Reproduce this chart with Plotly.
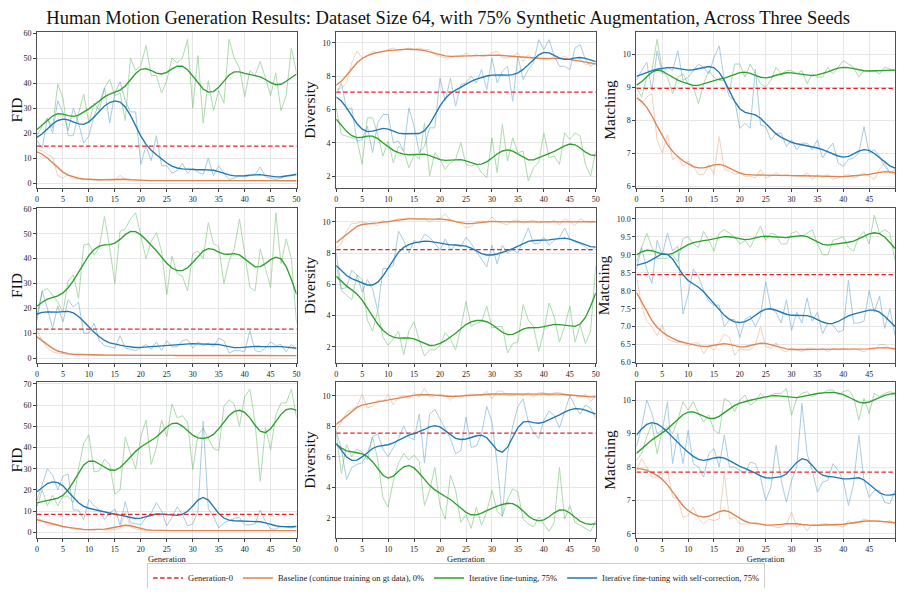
import numpy as np
import plotly.graph_objects as go
from plotly.subplots import make_subplots

generations = list(range(51))
metric_names = ["FID", "Diversity", "Matching"]
series_names = [
    "Baseline (continue training on gt data), 0%",
    "Iterative fine-tuning, 75%",
    "Iterative fine-tuning with self-correction, 75%",
]
gen0_fid = [14.8, 11.6, 8.45]
gen0_div = [7.05, 8.22, 7.55]
gen0_match = [8.96, 8.45, 7.85]

# ---------------- Seed 1 ----------------
fid_s1_base = [13.5, 13.0, 11.5, 10.5, 3.0, 2.0, 3.5, 1.8, 1.8, 1.5, 1.4, 1.3, 1.3, 1.2, 1.3, 1.2, 3.2, 1.5, 1.2, 1.1,
               1.1, 1.0, 1.0, 1.1, 1.0, 1.0, 1.0, 1.0, 1.0, 1.0, 1.0, 0.9, 1.0, 0.9, 0.9, 1.0, 1.1, 0.9, 0.9, 1.0,
               0.9, 0.9, 1.0, 1.0, 1.2, 0.9, 1.0, 1.0, 1.0, 1.1, 1.0]
fid_s1_iter = [19, 23, 26, 22, 39.5, 34, 19, 19, 28, 35.5, 24, 32, 29, 38, 41.5, 35, 36, 25, 50, 45,
               47, 55, 43, 43, 36, 41, 50, 48, 50, 57.5, 30, 51, 24, 41, 29, 37, 32, 57.5, 50, 46,
               34.5, 45, 43, 48.7, 42, 35, 44, 29, 35, 54, 44]
fid_s1_corr = [17, 14, 26, 20, 33, 28, 21, 30, 24, 16, 19, 27, 32, 38, 24, 36, 40.5, 33, 28.5, 28.5,
               7.5, 15, 9, 19, 7, 7, 4, 5, 8, 4, 6, 4.5, 3.5, 10, 3, 7, 4, 1.5, 2, 3,
               2.5, 3, 3.5, 6.5, 2.5, 2, 1.5, 2, 3, 3, 4]
div_s1_base = [7.2, 7.3, 7.6, 8.8, 9.5, 9.1, 9.2, 9.5, 9.4, 9.5, 9.6, 9.7, 9.5, 9.6, 9.7, 9.6, 9.7, 9.6, 9.6, 9.3,
               9.2, 9.1, 9.1, 9.2, 9.2, 9.4, 9.2, 9.3, 9.2, 9.2, 9.4, 9.5, 9.1, 9.1, 9.2, 9.4, 8.9, 9.3, 9.0, 9.1,
               9.0, 9.0, 9.2, 9.1, 9.2, 9.0, 8.9, 9.0, 8.7, 8.8, 8.7]
div_s1_iter = [6.1, 4.5, 4.4, 4.3, 4.2, 2.7, 5.5, 5.5, 4.5, 3.2, 4.1, 2.8, 3.8, 3.5, 2.5, 3.3, 3.0, 5.2, 2.0, 3.4,
               3.0, 2.4, 2.8, 3.0, 4.0, 2.7, 2.6, 2.7, 2.2, 1.9, 4.3, 2.2, 5.1, 2.9, 4.3, 3.4, 3.5, 1.7, 2.5, 2.8,
               4.6, 3.1, 3.2, 2.7, 4.6, 4.2, 4.6, 4.4, 2.7, 2.0, 3.5]
div_s1_corr = [6.9, 7.6, 6.0, 6.1, 4.1, 4.2, 5.0, 3.4, 5.2, 5.7, 5.7, 4.0, 4.1, 3.5, 6.1, 5.0, 3.4, 3.8, 4.9, 4.9,
               7.9, 6.5, 7.9, 6.2, 7.5, 7.6, 8.0, 7.6, 8.4, 7.2, 9.1, 7.6, 8.3, 8.6, 6.5, 9.2, 7.8, 8.4, 8.8, 10.2,
               9.6, 10.2, 9.2, 8.6, 8.6, 8.4, 9.7, 9.9, 9.0, 8.6, 8.8]
match_s1_base = [8.8, 8.5, 8.7, 8.8, 7.4, 7.0, 7.55, 6.8, 6.9, 6.6, 6.75, 6.6, 6.35, 6.35, 6.65, 6.35, 7.5, 6.5, 6.45, 6.35,
                 6.4, 6.3, 6.3, 6.25, 6.5, 6.25, 6.3, 6.4, 6.3, 6.35, 6.3, 6.3, 6.3, 6.4, 6.2, 6.35, 6.25, 6.35, 6.2, 6.25,
                 6.3, 6.35, 6.25, 6.3, 6.4, 6.3, 6.2, 6.5, 6.7, 6.4, 6.35]
match_s1_iter = [9.0, 8.7, 9.3, 9.5, 10.45, 9.5, 9.3, 8.8, 9.3, 9.4, 9.1, 9.0, 8.5, 9.1, 9.5, 9.3, 9.2, 9.2, 8.9, 9.7,
                 9.7, 9.3, 9.7, 9.4, 9.1, 9.0, 9.2, 9.6, 9.4, 9.5, 9.5, 9.4, 9.5, 9.1, 9.4, 9.3, 9.3, 9.6, 9.4, 9.6,
                 9.8, 9.7, 9.6, 9.3, 9.5, 9.5, 9.5, 9.4, 9.6, 9.55, 9.5]
match_s1_corr = [9.2, 9.5, 9.75, 8.9, 10.1, 9.4, 9.6, 9.5, 10.1, 9.2, 9.3, 9.5, 9.7, 9.6, 9.4, 9.9, 10.25, 9.2, 8.7, 8.6,
                 7.75, 7.9, 7.75, 9.55, 7.85, 7.8, 7.4, 7.6, 7.6, 7.2, 7.4, 7.1, 7.3, 7.3, 7.1, 7.4, 6.85, 7.1, 7.3, 6.7,
                 6.6, 6.8, 6.85, 7.0, 7.8, 7.0, 7.1, 6.9, 6.6, 6.4, 6.5]

# ---------------- Seed 2 ----------------
fid_s2_base = [11, 7, 4, 2.5, 2, 1.7, 1.5, 1.4, 1.4, 1.3, 1.3, 1.2, 1.2, 1.2, 1.1, 1.1, 1.1, 1.1, 1.0, 1.0,
               1.0, 1.0, 1.0, 1.0, 1.0, 1.3, 1.0, 1.0, 1.0, 1.0, 1.0, 1.0, 1.0, 1.0, 1.0, 1.0, 1.0, 1.0, 1.0, 1.0,
               1.0, 1.0, 1.0, 1.0, 1.0, 1.0, 1.0, 1.0, 1.0, 1.0, 1.0]
fid_s2_iter = [17, 27, 28, 25, 22.5, 18.5, 31, 33.5, 24, 45.5, 46, 41.5, 44.5, 57, 44.5, 30, 51, 52, 56, 58.5,
               49.5, 40, 47, 50.5, 43, 25.5, 41, 34, 33, 27, 42, 43, 40, 54.5, 46, 45, 30, 39, 44, 56,
               42, 28.5, 27, 44, 36, 28.5, 58.5, 38, 48, 40, 14]
fid_s2_corr = [15, 27, 20, 12, 21, 14.5, 23.5, 20.5, 22.5, 10, 10, 14, 7, 5, 4.5, 4, 9, 4, 3.5, 3,
               4, 5.5, 3.5, 6.5, 3, 7, 4.5, 4.5, 7, 7.5, 4, 6.5, 5, 6, 4.5, 8, 7, 2, 3, 3,
               2.5, 11, 3, 2.5, 4, 6.5, 5, 5.5, 2.5, 5.5, 3.5]
div_s2_base = [8.3, 8.6, 9.4, 9.9, 9.9, 10.0, 9.9, 9.85, 9.75, 10.1, 9.9, 10.1, 10.2, 10.2, 10.25, 10.2, 10.15, 10.2, 10.0, 10.15,
               10.2, 10.5, 10.1, 10.0, 9.9, 9.6, 9.7, 10.0, 10.05, 9.95, 10.3, 10.0, 9.9, 9.8, 10.1, 10.1, 9.9, 10.0, 10.1, 9.9,
               10.0, 9.95, 10.1, 9.8, 10.2, 10.0, 9.75, 10.2, 10.0, 9.95, 10.0]
div_s2_iter = [7.2, 5.6, 5.3, 5.0, 6.6, 6.3, 3.7, 3.0, 4.3, 2.6, 2.1, 2.5, 3.0, 1.5, 3.0, 3.6, 2.4, 1.4, 1.8, 1.8,
               2.1, 2.9, 2.5, 1.8, 3.2, 4.9, 3.3, 3.5, 3.6, 4.6, 3.2, 3.3, 3.3, 1.6, 2.2, 2.3, 4.7, 3.7, 3.3, 1.7,
               3.0, 4.8, 3.9, 2.3, 3.3, 4.6, 2.3, 3.4, 2.2, 3.0, 7.2]
div_s2_corr = [8.0, 5.7, 5.8, 6.9, 6.6, 5.5, 6.3, 5.7, 4.3, 7.0, 7.0, 7.2, 9.4, 8.8, 8.0, 8.8, 8.6, 9.2, 9.0, 8.6,
               8.2, 8.9, 8.2, 8.5, 8.4, 9.0, 8.6, 8.1, 7.6, 7.1, 8.5, 7.3, 8.5, 8.0, 8.2, 8.0, 8.8, 9.6, 8.6, 8.6,
               9.0, 8.5, 8.8, 9.0, 9.6, 8.9, 8.7, 8.6, 8.4, 8.1, 8.4]
match_s2_base = [8.4, 7.6, 7.15, 7.0, 6.75, 7.05, 6.65, 6.6, 6.55, 6.6, 6.45, 6.55, 6.55, 6.25, 6.45, 6.35, 6.55, 6.8, 6.7, 6.2,
                 6.4, 6.35, 6.35, 6.5, 7.0, 6.45, 6.4, 6.55, 6.35, 6.3, 6.4, 6.35, 6.3, 6.4, 6.4, 6.35, 6.4, 6.3, 6.4, 6.35,
                 6.4, 6.35, 6.4, 6.35, 6.3, 6.4, 6.35, 6.5, 6.5, 6.4, 6.35]
match_s2_iter = [8.8, 9.2, 9.6, 9.2, 8.9, 8.9, 8.9, 9.0, 8.8, 9.45, 9.5, 9.3, 9.2, 9.65, 9.4, 9.1, 9.6, 9.7, 9.6, 9.5,
                 9.3, 9.4, 9.2, 9.5, 9.8, 9.4, 9.6, 9.55, 9.3, 9.3, 9.6, 9.65, 9.5, 9.6, 9.7, 9.3, 9.0, 9.0, 9.4, 9.45,
                 9.5, 9.2, 9.1, 9.5, 9.65, 9.3, 10.1, 9.6, 9.7, 9.6, 8.85]
match_s2_corr = [8.6, 9.2, 8.6, 8.2, 9.4, 9.0, 9.6, 9.1, 9.25, 7.35, 7.9, 8.6, 8.4, 8.0, 7.7, 7.6, 7.6, 7.0, 7.2, 7.2,
                 6.7, 7.2, 7.3, 7.0, 7.3, 8.25, 7.5, 7.4, 7.1, 7.75, 6.9, 7.4, 7.1, 7.8, 7.15, 7.4, 6.8, 7.1, 7.05, 6.85,
                 6.9, 8.3, 7.1, 7.1, 7.15, 8.0, 7.4, 7.85, 6.95, 7.5, 6.75]

# ---------------- Seed 3 ----------------
fid_s3_base = [7, 5.5, 3.5, 3.5, 3.5, 2.5, 2.5, 1.5, 1.2, 1.2, 1.0, 1.0, 1.5, 1.0, 1.2, 1.5, 1.7, 10, 2.5, 1.5,
               1.0, 0.8, 0.8, 0.8, 0.8, 0.8, 0.8, 0.8, 0.8, 0.8, 0.9, 0.8, 0.8, 0.8, 0.8, 0.8, 0.8, 0.8, 0.8, 0.8,
               0.8, 0.8, 0.8, 0.8, 0.8, 0.8, 0.8, 0.8, 0.8, 0.8, 0.8]
fid_s3_iter = [12, 20, 12.5, 17.5, 12.5, 17, 17, 14, 30, 42, 46, 28.5, 29, 34.5, 32, 18, 20, 45, 37, 30,
               45, 53, 32, 40, 53, 45, 60.5, 54, 55, 52, 29.5, 46, 49, 44, 39.5, 38.5, 59.5, 62.5, 60.5, 50,
               64, 67.5, 52, 24, 49.5, 39, 55.5, 61, 61, 67.5, 54]
fid_s3_corr = [15, 22, 30, 27, 20, 26.5, 27.5, 10.5, 10.5, 6, 15.5, 12.5, 10.5, 6, 9, 11, 3.5, 14.5, 4.5, 4,
               3.5, 7, 9, 14, 10, 3, 7, 12, 8.5, 3, 4, 10, 52.5, 11, 7.5, 2, 4.5, 5.5, 6.5, 7,
               3.5, 3.5, 4, 10.5, 5, 1.5, 1.5, 3, 2.5, 2, 3]
div_s3_base = [7.7, 8.3, 8.9, 9.1, 9.3, 10.1, 9.2, 9.3, 9.7, 9.6, 10.1, 9.4, 9.9, 10.0, 9.8, 10.2, 9.9, 10.5, 9.9, 10.0,
               10.1, 10.0, 9.7, 10.0, 9.9, 10.1, 10.1, 10.1, 10.0, 10.3, 9.8, 10.3, 10.3, 10.0, 10.0, 10.1, 10.0, 10.2, 9.9, 10.2,
               10.2, 10.0, 10.2, 10.2, 10.1, 10.0, 10.0, 9.9, 10.1, 9.6, 10.0]
div_s3_iter = [7.5, 4.9, 6.8, 6.0, 6.5, 6.3, 5.8, 7.3, 5.8, 3.3, 2.7, 4.4, 5.6, 6.2, 5.8, 6.1, 5.7, 2.8, 3.8, 5.3,
               2.8, 1.9, 4.8, 3.8, 1.7, 2.2, 1.3, 2.7, 1.5, 2.4, 3.8, 2.4, 2.1, 3.2, 3.9, 3.7, 1.9, 1.6, 1.4, 2.0,
               1.6, 1.1, 1.7, 5.3, 1.9, 2.8, 1.7, 1.5, 1.3, 1.1, 1.8]
div_s3_corr = [7.7, 6.5, 4.5, 5.3, 5.5, 5.6, 6.2, 7.3, 7.5, 6.5, 6.0, 6.6, 7.2, 8.0, 7.3, 7.1, 8.8, 5.6, 8.8, 9.1,
               8.5, 7.8, 7.2, 6.2, 6.4, 8.6, 6.6, 6.7, 7.5, 9.3, 8.3, 5.5, 2.1, 6.2, 8.0, 9.3, 9.8, 8.3, 7.6, 7.2,
               8.4, 9.0, 8.7, 7.9, 8.9, 10.0, 9.3, 8.8, 9.4, 9.2, 8.5]
match_s3_base = [7.9, 8.25, 8.0, 7.7, 7.7, 7.8, 7.9, 7.1, 7.05, 6.5, 6.55, 6.8, 6.45, 6.3, 6.45, 6.4, 6.45, 7.8, 6.45, 6.5,
                 6.3, 6.3, 6.3, 6.35, 6.3, 6.25, 6.25, 6.2, 6.2, 6.3, 6.65, 6.2, 6.3, 6.1, 6.3, 6.25, 6.3, 6.3, 6.25, 6.25,
                 6.2, 6.4, 6.3, 6.35, 6.45, 6.4, 6.4, 6.4, 6.35, 6.4, 6.3]
match_s3_iter = [8.2, 8.4, 8.9, 9.3, 8.4, 9.1, 9.2, 9.0, 9.4, 9.95, 9.7, 9.95, 9.6, 9.35, 9.55, 9.1, 9.0, 10.05, 9.95, 9.65,
                 10.0, 10.15, 9.85, 9.95, 10.2, 10.05, 10.15, 10.2, 10.2, 10.35, 9.55, 10.05, 10.2, 10.25, 10.1, 10.2, 10.2, 10.3, 10.3, 10.15,
                 10.25, 10.3, 10.1, 9.4, 10.05, 9.6, 10.2, 10.1, 10.2, 10.25, 10.2]
match_s3_corr = [8.6, 9.2, 10.0, 9.6, 9.0, 9.1, 9.95, 8.1, 9.0, 8.1, 9.1, 8.1, 8.0, 7.7, 8.4, 8.55, 8.0, 8.95, 8.0, 8.0,
                 7.9, 7.8, 8.15, 8.1, 7.7, 7.0, 7.4, 8.65, 7.6, 6.95, 7.6, 8.0, 9.9, 8.4, 7.9, 7.25, 7.55, 7.6, 8.1, 7.9,
                 7.6, 6.85, 7.5, 8.95, 7.6, 7.1, 7.3, 7.3, 6.95, 6.9, 7.3]

panels = [
    [(fid_s1_base, fid_s1_iter, fid_s1_corr, gen0_fid[0]),
     (div_s1_base, div_s1_iter, div_s1_corr, gen0_div[0]),
     (match_s1_base, match_s1_iter, match_s1_corr, gen0_match[0])],
    [(fid_s2_base, fid_s2_iter, fid_s2_corr, gen0_fid[1]),
     (div_s2_base, div_s2_iter, div_s2_corr, gen0_div[1]),
     (match_s2_base, match_s2_iter, match_s2_corr, gen0_match[1])],
    [(fid_s3_base, fid_s3_iter, fid_s3_corr, gen0_fid[2]),
     (div_s3_base, div_s3_iter, div_s3_corr, gen0_div[2]),
     (match_s3_base, match_s3_iter, match_s3_corr, gen0_match[2])],
]

# axis ranges / ticks (styling)
y_ranges = [
    [[-1.9, 60.4], [1.28, 10.66], [5.94, 10.67]],
    [[-2.0, 60.4], [0.96, 10.88], [5.99, 10.30]],
    [[-2.7, 70.9], [0.67, 10.9], [5.88, 10.54]],
]
y_dticks = [[10, 2, 1], [10, 2, 0.5], [10, 2, 1]]

colors = ["#dd8452", "#2ca02c", "#1f77b4"]
gen0_color = "#e3262a"


def smooth(values, sigma=2.0):
    v = np.asarray(values, dtype=float)
    r = int(4 * sigma + 0.5)
    k = np.exp(-0.5 * (np.arange(-r, r + 1) / sigma) ** 2)
    k /= k.sum()
    p = np.pad(v, r, mode="edge")
    return np.convolve(p, k, mode="valid")


# The page body has an 8px margin on every side; keep the figure inside the
# window (no overflow) and map reference page pixels into figure pixels.
OFF = 8
W, H = 904 - 2 * OFF, 596 - 2 * OFF
KX = (W - 1 - (37 - OFF)) / (903 - 37)


def fx(px):
    return ((px - 37) * KX + (37 - OFF)) / W


def fy(py):
    return 1 - (py - OFF) / H


col_px = [(37, 299), (339, 601), (642, 903)]
row_px = [(32, 188), (208, 363), (382, 538)]

fig = make_subplots(rows=3, cols=3)
FONT = "Liberation Serif"
TXT = "#222222"

for r in range(3):
    for c in range(3):
        base, it, corr, g0 = panels[r][c]
        first = (r == 0 and c == 0)
        for si, ser in enumerate([base, it, corr]):
            fig.add_trace(go.Scatter(x=generations, y=ser, mode="lines",
                                     line=dict(color=colors[si], width=1.0), opacity=0.38,
                                     showlegend=False, hoverinfo="skip"), row=r + 1, col=c + 1)
        for si, ser in enumerate([base, it, corr]):
            fig.add_trace(go.Scatter(x=generations, y=smooth(ser), mode="lines",
                                     line=dict(color=colors[si], width=1.35),
                                     name=series_names[si], legendrank=2 + si,
                                     showlegend=first), row=r + 1, col=c + 1)
        fig.add_trace(go.Scatter(x=[generations[0], generations[-1]], y=[g0, g0], mode="lines",
                                 line=dict(color=gen0_color, width=1.3, dash="4.5px,2.5px"),
                                 name="Generation-0", legendrank=1, showlegend=first),
                      row=r + 1, col=c + 1)

        idx = r * 3 + c + 1
        xa = "xaxis" if idx == 1 else f"xaxis{idx}"
        ya = "yaxis" if idx == 1 else f"yaxis{idx}"
        x0, x1 = col_px[c]
        y0, y1 = row_px[r]
        common = dict(showline=True, mirror=True, linecolor="#505050", linewidth=1,
                      showgrid=True, gridcolor="#e6e6e6", gridwidth=0.8, zeroline=False,
                      ticks="outside", ticklen=3, tickwidth=0.8, tickcolor="#404040",
                      tickfont=dict(family=FONT, size=8, color=TXT), automargin=False)
        fig.layout[xa].update(domain=[fx(x0), min(fx(x1), 1.0)], range=[0, 50],
                              tick0=0, dtick=5, **common)
        fig.layout[ya].update(domain=[fy(y1), fy(y0)], range=y_ranges[r][c],
                              tick0=0, dtick=y_dticks[r][c],
                              tickformat=".1f" if (r == 1 and c == 2) else None,
                              title=dict(text=metric_names[c], standoff=3,
                                         font=dict(family=FONT, size=15.5, color="#111")),
                              **common)
        if r == 2:
            fig.layout[xa].update(title=dict(text="Generation", standoff=1,
                                              font=dict(family=FONT, size=8.5, color=TXT)))

fig.update_layout(
    width=W, height=H,
    margin=dict(l=0, r=0, t=0, b=0, autoexpand=False),
    paper_bgcolor="white", plot_bgcolor="white",
    font=dict(family=FONT, color=TXT),
    title=dict(text="Human Motion Generation Results: Dataset Size 64, with 75% Synthetic Augmentation, Across Three Seeds",
               x=fx(452), xanchor="center", y=1 - 10 / H, yanchor="middle", yref="container",
               font=dict(family=FONT, size=18.5, color="#111")),
    legend=dict(orientation="h", x=fx(460), xanchor="center", y=1 - 570 / H, yanchor="middle",
                bordercolor="#cccccc", borderwidth=1, bgcolor="white",
                font=dict(family=FONT, size=8.5, color=TXT), itemwidth=30, tracegroupgap=0),
)

fig.write_html("out.html")
